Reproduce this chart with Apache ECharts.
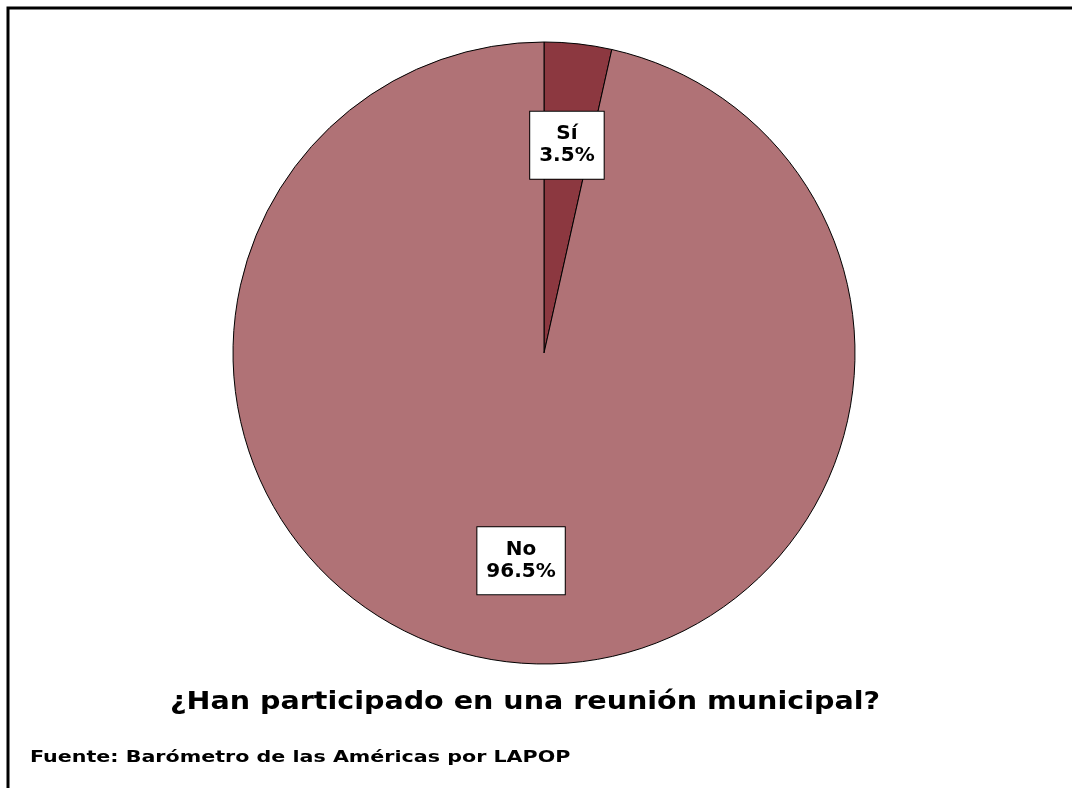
<!DOCTYPE html>
<html><head><meta charset="utf-8">
<script src="https://cdn.jsdelivr.net/npm/echarts@6/dist/echarts.min.js"></script>
<style>html,body{margin:0;padding:0;background:#fff}#c{width:1072px;height:788px}</style>
</head><body><div id="c"></div>
<script>
const categories = ['Sí', 'No'];
const values = [3.5, 96.5];
const sliceColors = ['#8C3840', '#B07276'];
const titleText = '¿Han participado en una reunión municipal?';
const sourceText = 'Fuente: Barómetro de las Américas por LAPOP';

const FONT = '"DejaVu Sans", Verdana, sans-serif';
const data = categories.map((c, i) => ({ name: c, value: values[i], itemStyle: { color: sliceColors[i] } }));
const chart = echarts.init(document.getElementById('c'));
chart.setOption({
  animation: false,
  backgroundColor: '#fff',
  graphic: [
    { type: 'rect', shape: { x: 8, y: 8, width: 1100, height: 800 },
      style: { fill: 'none', stroke: '#000', lineWidth: 3 }, silent: true },
    { type: 'text', x: 525, y: 703, scaleX: 1.19, silent: true,
      style: { text: titleText, x: 0, y: 0, align: 'center', verticalAlign: 'middle',
        font: 'bold 24px ' + FONT, fill: '#000' } },
    { type: 'text', x: 30, y: 758, scaleX: 1.25, silent: true,
      style: { text: sourceText, x: 0, y: 0, align: 'left', verticalAlign: 'middle',
        font: 'bold 16.5px ' + FONT, fill: '#000' } }
  ],
  series: [
    { type: 'pie', center: [544, 353], radius: 311, startAngle: 90, clockwise: true,
      data: data, label: { show: false }, labelLine: { show: false },
      itemStyle: { borderColor: '#000', borderWidth: 1 }, silent: true },
    { type: 'pie', center: [544, 353], radius: [101, 311], startAngle: 90, clockwise: true,
      data: categories.map((c, i) => ({ name: c, value: values[i] })),
      itemStyle: { color: 'rgba(0,0,0,0)' }, silent: true,
      label: { show: true, position: 'inside', formatter: p => p.name + '\n' + p.value.toFixed(1) + '%',
        fontFamily: FONT, fontWeight: 'bold', fontSize: 20, color: '#000', lineHeight: 22,
        backgroundColor: '#fff', borderColor: '#000', borderWidth: 1, padding: [12, 9, 11, 9], align: 'center' },
      labelLine: { show: false } }
  ]
});
</script></body></html>
